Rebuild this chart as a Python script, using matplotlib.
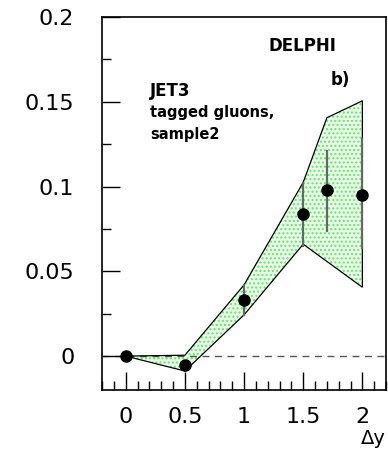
import matplotlib.pyplot as plt
from matplotlib.ticker import MultipleLocator

# data
dy = [0.0, 0.5, 1.0, 1.5, 1.7, 2.0]
val = [0.0, -0.005, 0.033, 0.084, 0.098, 0.095]
err_lo = [0.0, 0.0, 0.024, 0.065, 0.074, 0.0635]
err_hi = [0.0, 0.0, 0.042, 0.102, 0.121, 0.128]

band_up_x = [0.0, 0.5, 1.0, 1.5, 1.7, 2.0]
band_up = [0.0, 0.0005, 0.042, 0.1025, 0.1406, 0.1506]
band_lo_x = [0.0, 0.5, 1.0, 1.5, 2.0]
band_lo = [0.0, -0.0088, 0.0243, 0.066, 0.0406]

xticks = [0, 0.5, 1, 1.5, 2]
xticklabels = ["0", "0.5", "1", "1.5", "2"]
yticks = [0, 0.05, 0.1, 0.15, 0.2]
yticklabels = ["0", "0.05", "0.1", "0.15", "0.2"]

fig = plt.figure(figsize=(3.88, 4.54), dpi=100)
ax = fig.add_axes([0.263, 0.141, 0.732, 0.8215])

# band polygon: upper edge left->right, lower edge right->left
px = band_up_x + band_lo_x[::-1]
py = band_up + band_lo[::-1]
ax.fill(px, py, facecolor="#eeffee", edgecolor="none", zorder=1)
ax.fill(px, py, facecolor="none", edgecolor="#55ee55", hatch="....", linewidth=0, zorder=1)
ax.fill(px, py, facecolor="none", edgecolor="black", linewidth=0.9, zorder=2)

ax.axhline(0, color="#555555", linestyle=(0, (5, 4)), linewidth=1.0, zorder=1.5)

for x, lo, hi in zip(dy, err_lo, err_hi):
    if hi > lo:
        ax.plot([x, x], [lo, hi], color="#666666", linewidth=1.6, zorder=3)

ax.plot(dy, val, "o", color="black", markersize=8, zorder=4)

ax.set_xlim(-0.2, 2.2)
ax.set_ylim(-0.02, 0.2)
ax.set_xticks(xticks)
ax.set_xticklabels(xticklabels)
ax.set_yticks(yticks)
ax.set_yticklabels(yticklabels)
ax.xaxis.set_minor_locator(MultipleLocator(0.1))
ax.yaxis.set_minor_locator(MultipleLocator(0.025))
ax.tick_params(axis="both", which="both", direction="in", top=False, right=False,
               labelsize=16, width=1.0)
ax.tick_params(axis="both", which="major", length=13)
ax.tick_params(axis="both", which="minor", length=6.5)
ax.tick_params(axis="x", which="major", pad=12)
ax.tick_params(axis="y", which="major", pad=20)
for s in ax.spines.values():
    s.set_linewidth(1.2)

fig.text(331 / 388, 1 - 80 / 454, "b)", fontsize=12, fontweight="bold", va="center")
fig.text(268 / 388, 1 - 46 / 454, "DELPHI", fontsize=12, fontweight="bold", va="center")
fig.text(150 / 388, 1 - 91 / 454, "JET3", fontsize=12, fontweight="bold", va="center")
fig.text(150 / 388, 1 - 113 / 454, "tagged gluons,", fontsize=10.5, fontweight="bold", va="center")
fig.text(150 / 388, 1 - 135 / 454, "sample2", fontsize=10.5, fontweight="bold", va="center")
fig.text(386 / 388, 1 - 438 / 454, "Δy", fontsize=14, ha="right", va="center")

fig.savefig("out.png", dpi=100)
